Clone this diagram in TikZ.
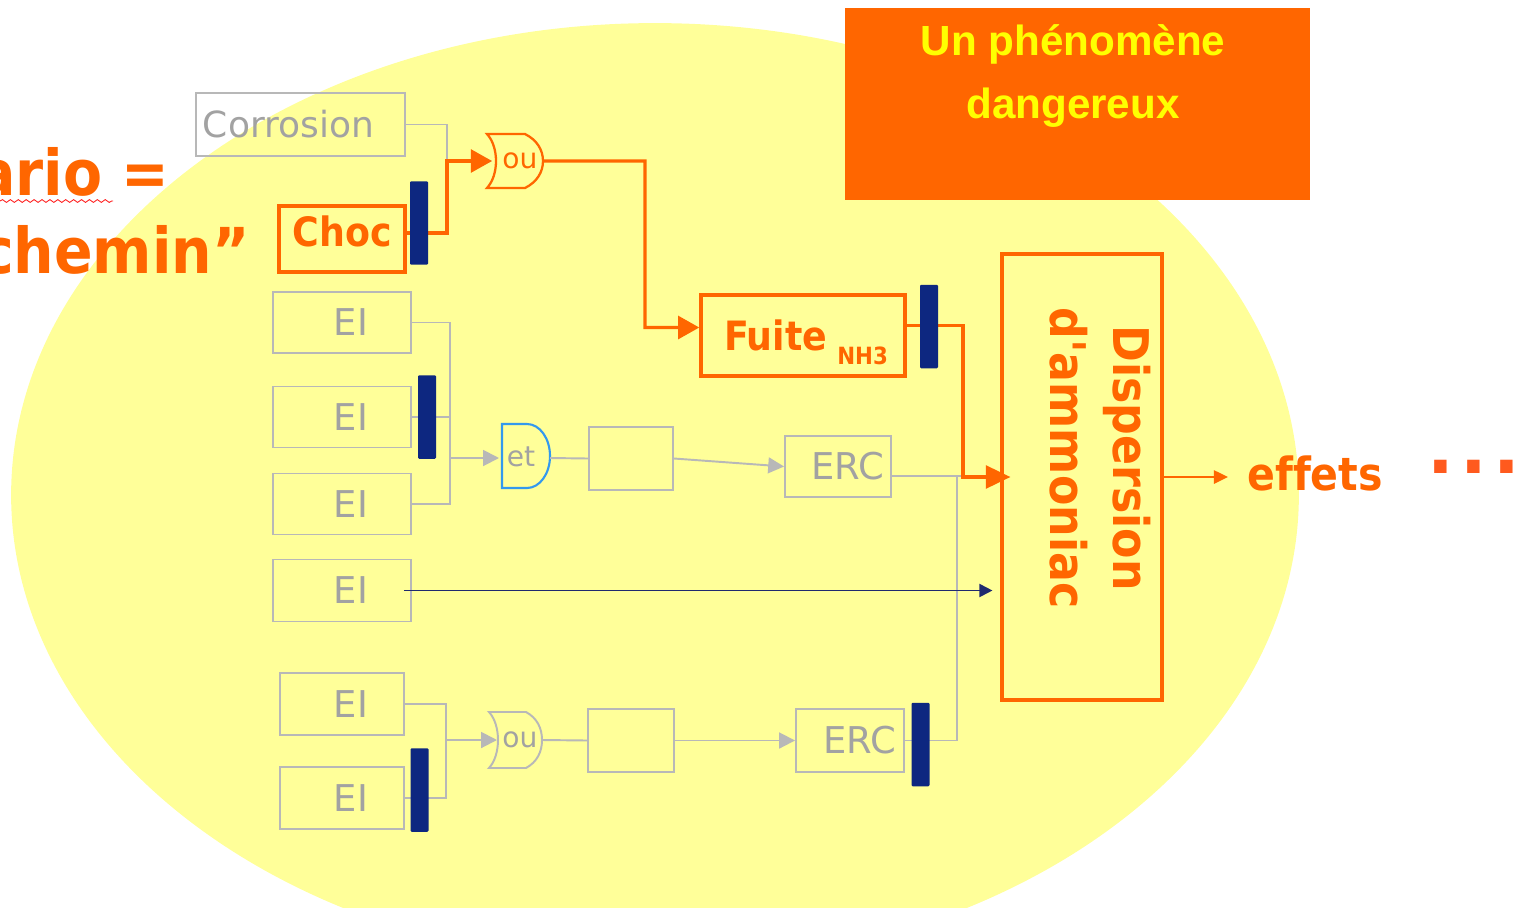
\documentclass[tikz,border=0pt]{standalone}
\usepackage{fontspec}
\setmainfont{DejaVu Sans}
\newfontfamily\cnd{DejaVu Sans Condensed}
\newfontfamily\arl{Liberation Sans}
\usetikzlibrary{arrows.meta,decorations.pathmorphing}
\definecolor{ellfill}{HTML}{FFFF99}
\definecolor{org}{HTML}{FF6600}
\definecolor{greyln}{HTML}{B8B8B8}
\definecolor{greytx}{HTML}{A2A2A2}
\definecolor{navy}{HTML}{0D2780}
\definecolor{etblue}{HTML}{3399EE}
\definecolor{arrnavy}{HTML}{1F2A6E}
\definecolor{yel}{HTML}{FFFF00}
\definecolor{dotc}{HTML}{FF5A1E}
\definecolor{squig}{HTML}{FF2020}
\begin{document}
\begin{tikzpicture}[x=0.02cm,y=-0.02cm,
  greybox/.style={draw=greyln, line width=1.1pt, text=greytx, inner sep=0pt, font=\fontsize{21}{25}\selectfont},
  orgbox/.style={draw=org, line width=2pt, text=org, inner sep=0pt, font=\cnd\bfseries\fontsize{23}{27}\selectfont},
  bar/.style={fill=navy, draw=none, rounded corners=0.6pt, minimum width=0.36cm, minimum height=1.67cm, inner sep=0pt},
  gline/.style={draw=greyln, line width=1.1pt},
  garrow/.style={gline, -{Triangle[length=9pt,width=9pt]}},
  oline/.style={draw=org, line width=1.8pt},
  oarrow/.style={oline, -{Triangle[length=12pt,width=13pt]}},
  gatetext/.style={inner sep=0pt, font=\fontsize{16}{18}\selectfont}
]
\useasboundingbox (0,0) rectangle (1522,907);

% background ellipse
\fill[ellfill] (655,495) ellipse [x radius=12.88cm, y radius=9.44cm];

% top box
\node[fill=org, minimum width=9.3cm, minimum height=3.84cm, inner sep=0pt] (phen) at (1077.5,104) {};
\node[text=yel, align=center, inner sep=0pt, font=\arl\bfseries\fontsize{24}{35.7}\selectfont] (phentxt) at (1073,76) {Un phénomène\\dangereux};

% left texts
\node[anchor=base east, text=org, inner sep=0pt, font=\cnd\bfseries\fontsize{36}{40}\selectfont] (ario) at (170,195) {ario =};
\node[anchor=base east, text=org, inner sep=0pt, font=\cnd\bfseries\fontsize{36}{40}\selectfont] (chemin) at (250,273) {chemin”};
\draw[squig, line width=0.5pt, decorate, decoration={snake, amplitude=0.8pt, segment length=4.5pt}] (0,201) -- (113,201);

% boxes
\node[greybox, minimum width=4.18cm, minimum height=1.26cm, font=\fontsize{20.5}{24}\selectfont] (corr) at (300.5,124.5) {\hspace*{-0.48cm}Corrosion};
\node[orgbox, minimum width=2.52cm, minimum height=1.32cm, text depth=0.32cm] (choc) at (342,239) {Choc};
\node[greybox, minimum width=2.76cm, minimum height=1.22cm] (ei1) at (342,322.5) {\kern0.36cm EI};
\node[greybox, minimum width=2.76cm, minimum height=1.22cm] (ei2) at (342,417) {\kern0.36cm EI};
\node[greybox, minimum width=2.76cm, minimum height=1.22cm] (ei3) at (342,504) {\kern0.36cm EI};
\node[greybox, minimum width=2.76cm, minimum height=1.24cm] (ei4) at (342,590.5) {\kern0.36cm EI};
\node[greybox, minimum width=2.48cm, minimum height=1.24cm] (ei5) at (342,704) {\kern0.36cm EI};
\node[greybox, minimum width=2.48cm, minimum height=1.24cm] (ei6) at (342,798) {\kern0.36cm EI};
\node[greybox, minimum width=1.68cm, minimum height=1.26cm] (b1) at (631,458.5) {};
\node[greybox, minimum width=2.12cm, minimum height=1.22cm] (erc1) at (838,466.5) {\kern0.4cm ERC};
\node[greybox, minimum width=1.72cm, minimum height=1.26cm] (b2) at (631,740.5) {};
\node[greybox, minimum width=2.16cm, minimum height=1.26cm] (erc2) at (850,740.5) {\kern0.4cm ERC};
\node[orgbox, minimum width=4.08cm, minimum height=1.62cm, text depth=0pt] (fuite) at (803,335.5) {\kern0.12cm Fuite\hspace{0.2cm}\raisebox{-0.28cm}{\fontsize{13.5}{15}\selectfont NH3}};
\node[draw=org, line width=1.8pt, minimum width=3.2cm, minimum height=8.92cm, inner sep=0pt] (disp) at (1082,477) {};
\node[rotate=-90, text=org, align=center, inner sep=0pt, font=\cnd\bfseries\fontsize{28}{35.7}\selectfont] (disptxt) at (1100,458) {Dispersion\\d'ammoniac};
\node[anchor=base west, text=org, inner sep=0pt, font=\cnd\bfseries\fontsize{26}{30}\selectfont] (effets) at (1247,490) {ef\kern0pt fets};
\node[anchor=base west, text=dotc, inner sep=0pt, font=\bfseries\fontsize{40}{44}\selectfont] (dots) at (1427,473) {.\kern3.5pt.\kern3.5pt.};

% gates
\draw[org, line width=1.3pt] (487,134) -- (525,134) .. controls (537,140) and (543,150) .. (543,161) .. controls (543,172) and (537,182) .. (525,188) -- (487,188) .. controls (499,175) and (499,147) .. (487,134) -- cycle;
\node[gatetext, text=org] (g1) at (520,161) {ou};
\coordinate (g1in) at (492,161);
\coordinate (g1out) at (543,161);

\draw[etblue, line width=1.2pt] (502,424) -- (527,424) .. controls (539.7,424) and (550,438.3) .. (550,456) .. controls (550,473.7) and (539.7,488) .. (527,488) -- (502,488) -- cycle;
\node[gatetext, text=greytx] (et) at (521,457) {et};
\coordinate (etin) at (499,458);
\coordinate (etout) at (550,458);

\draw[greyln, line width=1.1pt] (489,712) -- (526,712) .. controls (537,718) and (542,728) .. (542,740) .. controls (542,752) and (537,762) .. (526,768) -- (489,768) .. controls (501,755) and (501,725) .. (489,712) -- cycle;
\node[gatetext, text=greytx] (g2) at (520,740) {ou};
\coordinate (g2in) at (497,740);
\coordinate (g2out) at (542,740);

% junctions
\coordinate (j1) at (447,161);
\coordinate (j2) at (645,327.5);
\coordinate (j3) at (963,477);
\coordinate (j4) at (450,458);
\coordinate (j5) at (957,476.5);
\coordinate (j6) at (446,740);

% connectors
\draw[garrow] (corr.east) -| (j1) -- (g1in);
\draw[oarrow] ([yshift=0.12cm]choc.east) -| (j1) -- (g1in);
\draw[oarrow] (g1out) -| (j2) -- ([yshift=0.16cm]fuite.west);

\draw[gline] (ei1.east) -| (j4);
\draw[gline] (ei3.east) -| (j4);
\draw[gline] (ei2.east) -- (ei2.east -| j4);
\draw[garrow] (j4) -- (etin);
\draw[gline] (etout) -- (b1.west);
\draw[garrow] (b1.east) -- (erc1.west);
\draw[gline] ([yshift=-0.19cm]erc1.east) -- ([yshift=-0.19cm]erc1.east -| disp.west);
\draw[gline] (erc2.east) -| (j5);

\draw[arrnavy, line width=1.1pt, -{Triangle[length=7.5pt,width=7.5pt]}, shorten >=0.16cm] ([xshift=-0.16cm]ei4.east) -- (ei4.east -| disp.west);

\draw[gline] (ei5.east) -| (j6);
\draw[gline] (ei6.east) -| (j6);
\draw[garrow] (j6) -- (g2in);
\draw[gline] (g2out) -- (b2.west);
\draw[garrow] (b2.east) -- (erc2.west);

\draw[oline, -{Triangle[length=14pt,width=13pt]}, shorten >=-0.2cm] ([yshift=0.2cm]fuite.east) -| (j3) -- (disp.west);
\draw[org, line width=1.2pt, -{Triangle[length=8pt,width=7.5pt]}, shorten >=0.38cm] (disp.east) -- (disp.east -| effets.west);

% bars
\node[bar] (bar1) at (419,223) {};
\node[bar] (bar2) at (929,326.5) {};
\node[bar] (bar3) at (427,417) {};
\node[bar] (bar4) at (419.5,790) {};
\node[bar] (bar5) at (920.5,744.5) {};
\end{tikzpicture}
\end{document}
